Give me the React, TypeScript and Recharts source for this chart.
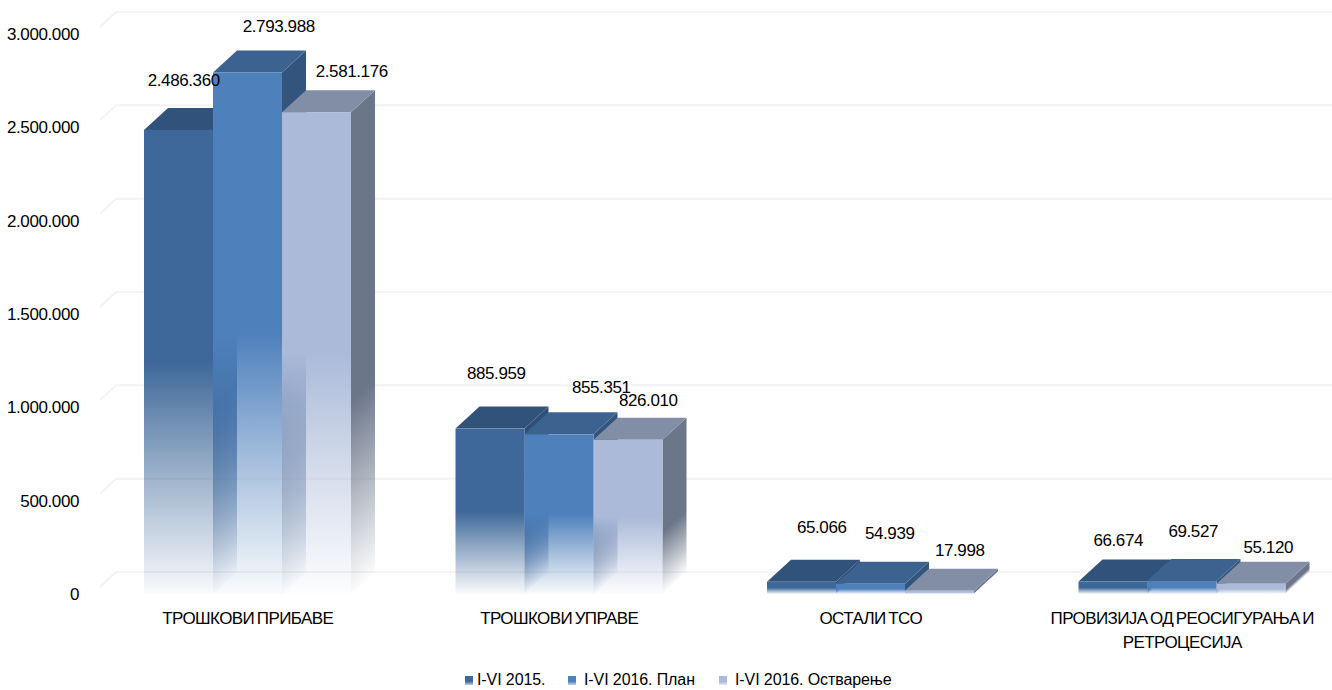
import React from 'react';
import { ComposedChart, Bar, Line, LabelList, XAxis, YAxis, CartesianGrid, Legend, Text } from 'recharts';

const categories = ['ТРОШКОВИ ПРИБАВЕ', 'ТРОШКОВИ УПРАВЕ', 'ОСТАЛИ ТСО', 'ПРОВИЗИЈА ОД РЕОСИГУРАЊА И РЕТРОЦЕСИЈА'];
const plan2015 = [2486360, 885959, 65066, 66674];
const plan2016 = [2793988, 855351, 54939, 69527];
const actual2016 = [2581176, 826010, 17998, 55120];
const yTicks = [0, 500000, 1000000, 1500000, 2000000, 2500000, 3000000];
const seriesNames = ['I-VI 2015.', 'I-VI 2016. План', 'I-VI 2016. Остварење'];

const data = categories.map((name, i) => ({ name, a: plan2015[i], b: plan2016[i], c: actual2016[i] }));

const DX = 24;
const DY = 22;
const FONT = '"Liberation Sans", Arial, sans-serif';

const palette = {
  a: { front: '#3e6899', top: '#31527a', side: '#2f4f78' },
  b: { front: '#4e80bc', top: '#3c6290', side: '#32547d' },
  c: { front: '#abbad9', top: '#828da6', side: '#6b7689' },
};

const labelNudge = {
  a: [[-64, -49], [-63, -55], [-49, -54], [-64, -41]],
  b: [[31, -46], [42, -47], [19, -50], [11, -50]],
  c: [[104, -41], [89, -39], [89, -40], [86, -36]],
};

const fmt = (v: number) => String(v).replace(/\B(?=(\d{3})+(?!\d))/g, '.');

function Bar3D(props: any) {
  const { x, y, width, height, index, colors, id } = props;
  if (width == null || height == null) return null;
  const bottom = y + height;
  const mid = y + height / 2;
  const rx = x + width;
  const len = Math.hypot(DX, DY);
  const start = mid + height * 0.1;
  const s = ((bottom - start) * DX) / len;
  const gx = rx + (DY / len) * s;
  const gy = start + (DX / len) * s;
  const frontId = `front-${id}-${index}`;
  const sideId = `side-${id}-${index}`;
  return (
    <g>
      <defs>
        <linearGradient id={frontId} x1="0" y1={y} x2="0" y2={bottom} gradientUnits="userSpaceOnUse">
          <stop offset="0.5" stopColor={colors.front} stopOpacity={1} />
          <stop offset="0.75" stopColor={colors.front} stopOpacity={0.5} />
          <stop offset="1" stopColor={colors.front} stopOpacity={0.03} />
        </linearGradient>
        <linearGradient id={sideId} x1={rx} y1={start} x2={gx} y2={gy} gradientUnits="userSpaceOnUse">
          <stop offset="0" stopColor={colors.side} stopOpacity={1} />
          <stop offset="1" stopColor={colors.side} stopOpacity={0.02} />
        </linearGradient>
      </defs>
      <path d={`M${rx} ${y} L${rx + DX} ${y - DY} L${rx + DX} ${bottom - DY} L${rx} ${bottom} Z`} fill={`url(#${sideId})`} />
      <path d={`M${x} ${y} L${x + DX} ${y - DY} L${rx + DX} ${y - DY} L${rx} ${y} Z`} fill={colors.top} />
      <rect x={x} y={y} width={width} height={height} fill={`url(#${frontId})`} />
    </g>
  );
}

function gridLine(props: any) {
  const { y1, key } = props;
  return (
    <path
      key={key}
      d={`M100 ${y1 - 7} L116 ${y1 - DY} L1340 ${y1 - DY}`}
      fill="none"
      stroke="#f3f3f3"
      strokeWidth={2}
    />
  );
}

function CategoryTick(props: any) {
  const { x, y, payload } = props;
  return (
    <Text
      x={x}
      y={y}
      width={272}
      textAnchor="middle"
      verticalAnchor="start"
      fontFamily={FONT}
      fontSize={17}
      letterSpacing={-0.6}
      wordSpacing={-1.5}
      lineHeight={24}
      fill="#000"
    >
      {payload.value}
    </Text>
  );
}

function makeLabel(key: 'a' | 'b' | 'c') {
  return function ValueLabel(props: any) {
    const { x, y, value, index } = props;
    const [dx, dy] = labelNudge[key][index];
    return (
      <text
        x={x + dx}
        y={y + dy}
        textAnchor="middle"
        dominantBaseline="central"
        fontFamily={FONT}
        fontSize={17}
        letterSpacing={-0.4}
        fill="#000"
      >
        {fmt(value)}
      </text>
    );
  };
}

function LegendContent() {
  const keys: ('a' | 'b' | 'c')[] = ['a', 'b', 'c'];
  const gaps = [4, 8, 8];
  const widths = [103, 151, 180];
  return (
    <div style={{ display: 'flex', justifyContent: 'flex-start', paddingLeft: 465, fontFamily: FONT, fontSize: 16, color: '#000', lineHeight: '18px' }}>
      {keys.map((k, i) => (
        <div key={k} style={{ display: 'flex', alignItems: 'center', width: widths[i] }}>
          <span
            style={{
              display: 'inline-block',
              width: 8,
              height: 9,
              marginRight: gaps[i],
              background: `linear-gradient(${palette[k].front} 60%, ${palette[k].front}55)`,
            }}
          />
          <span style={{ whiteSpace: 'nowrap', letterSpacing: -0.1 }}>{seriesNames[i]}</span>
        </div>
      ))}
    </div>
  );
}

export default function App() {
  const keys: ('a' | 'b' | 'c')[] = ['a', 'b', 'c'];
  return (
    <div style={{ position: 'absolute', left: 0, top: 0, width: 1332, height: 690, overflow: 'hidden', background: '#fff' }}>
      <ComposedChart
        width={1338}
        height={690}
        data={data}
        margin={{ top: 34, right: 0, bottom: 56, left: 0 }}
        barSize={69}
        barGap={0}
      >
        <CartesianGrid vertical={false} horizontal={gridLine} />
        <XAxis dataKey="name" axisLine={false} tickLine={false} tick={<CategoryTick />} interval={0} height={40} tickMargin={0} tickSize={18} />
        <YAxis
          width={92}
          domain={[0, 3000000]}
          ticks={yTicks}
          interval={0}
          axisLine={false}
          tickLine={false}
          tickSize={0}
          tickMargin={13}
          tickFormatter={fmt}
          tick={{ fontFamily: FONT, fontSize: 17, letterSpacing: -0.4, fill: '#000' }}
        />
        {keys.map((k) => (
          <Bar
            key={k}
            dataKey={k}
            isAnimationActive={false}
            shape={(p: any) => <Bar3D {...p} colors={palette[k]} id={k} />}
          />
        ))}
        {keys.map((k) => (
          <Line key={`l-${k}`} dataKey={k} stroke="none" dot={false} activeDot={false} isAnimationActive={false} legendType="none">
            <LabelList dataKey={k} content={makeLabel(k)} />
          </Line>
        ))}
        <Legend
          layout="horizontal"
          verticalAlign="middle"
          content={<LegendContent />}
          wrapperStyle={{ top: 671, left: 0, width: 1332, height: 18 }}
        />
      </ComposedChart>
    </div>
  );
}
